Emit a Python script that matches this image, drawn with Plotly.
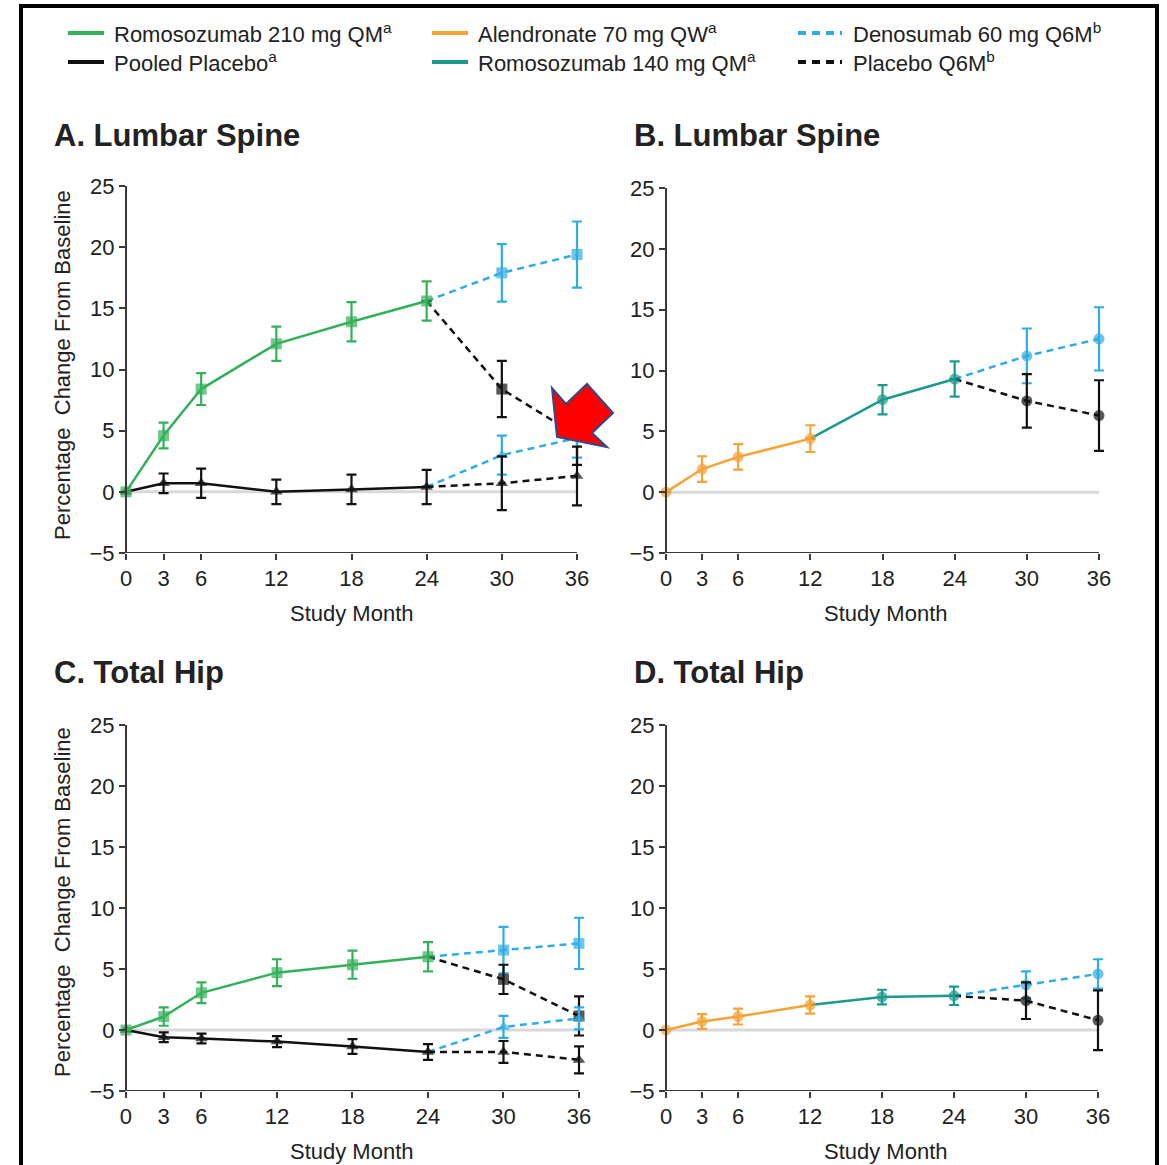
import plotly.graph_objects as go

W, H = 1167, 1165
FONT = "Liberation Sans, Arial, Helvetica, sans-serif"
TXT = "#222222"
AXIS = "#3a3a3a"

GREEN = "#33b15a"
ORANGE = "#f7a237"
BLUE = "#2fade4"
TEAL = "#1c9a8e"
BLACK = "#111111"

# ---- data -----------------------------------------------------------------
months = [0, 3, 6, 12, 18, 24, 30, 36]
month_ticks = ["0", "3", "6", "12", "18", "24", "30", "36"]
pct_ticks = [-5, 0, 5, 10, 15, 20, 25]

# A. Lumbar spine, phase 2 (romosozumab 210 mg vs pooled placebo)
romo210_ls = [0, 4.6, 8.4, 12.1, 13.9, 15.6]
romo210_ls_err = [None, 1.05, 1.3, 1.4, 1.6, 1.6]
romo_deno_ls = [17.9, 19.4]
romo_deno_ls_err = [2.35, 2.7]
romo_pbo_ls = [8.4, 4.6]
romo_pbo_ls_err = [2.3, 2.4]
pbo_ls = [0, 0.7, 0.7, 0.0, 0.2, 0.4]
pbo_ls_err = [None, 0.8, 1.2, 1.0, 1.2, 1.4]
pbo_deno_ls = [3.0, 4.4]
pbo_deno_ls_err = [1.6, 1.6]
pbo_pbo_ls = [0.7, 1.3]
pbo_pbo_ls_err = [2.2, 2.4]

# B. Lumbar spine, alendronate then romosozumab 140 mg
aln_ls = [0, 1.9, 2.9, 4.4]
aln_ls_err = [None, 1.05, 1.05, 1.1]
romo140_ls = [7.6, 9.3]
romo140_ls_err = [1.2, 1.45]
r140_deno_ls = [11.2, 12.6]
r140_deno_ls_err = [2.25, 2.6]
r140_pbo_ls = [7.5, 6.3]
r140_pbo_ls_err = [2.2, 2.9]

# C. Total hip, phase 2
romo210_th = [0, 1.1, 3.05, 4.7, 5.35, 6.0]
romo210_th_err = [None, 0.75, 0.85, 1.1, 1.15, 1.2]
romo_deno_th = [6.55, 7.1]
romo_deno_th_err = [1.9, 2.1]
romo_pbo_th = [4.15, 1.15]
romo_pbo_th_err = [1.2, 1.6]
pbo_th = [0, -0.6, -0.7, -0.95, -1.35, -1.8]
pbo_th_err = [None, 0.4, 0.4, 0.45, 0.6, 0.65]
pbo_deno_th = [0.25, 0.95]
pbo_deno_th_err = [0.9, 0.9]
pbo_pbo_th = [-1.8, -2.45]
pbo_pbo_th_err = [0.9, 1.1]

# D. Total hip, alendronate then romosozumab 140 mg
aln_th = [0, 0.7, 1.1, 2.05]
aln_th_err = [None, 0.6, 0.65, 0.7]
romo140_th = [2.7, 2.8]
romo140_th_err = [0.6, 0.75]
r140_deno_th = [3.7, 4.6]
r140_deno_th_err = [1.1, 1.2]
r140_pbo_th = [2.4, 0.8]
r140_pbo_th_err = [1.5, 2.45]

legend_items = [
    ("Romosozumab 210 mg QM<sup>a</sup>", GREEN, "solid"),
    ("Alendronate 70 mg QW<sup>a</sup>", ORANGE, "solid"),
    ("Denosumab 60 mg Q6M<sup>b</sup>", BLUE, "dash"),
    ("Pooled Placebo<sup>a</sup>", BLACK, "solid"),
    ("Romosozumab 140 mg QM<sup>a</sup>", TEAL, "solid"),
    ("Placebo Q6M<sup>b</sup>", BLACK, "dash"),
]


def px(x):
    return x / W


def py(y):
    return 1 - y / H


fig = go.Figure()


def series(axis, x, y, err, color, symbol, dash="solid", hide_first=False):
    sizes = [0 if (hide_first and i == 0) else 11 for i in range(len(x))]
    fig.add_trace(go.Scatter(
        x=x, y=y, mode="lines+markers", xaxis="x" + axis, yaxis="y" + axis,
        line=dict(color=color, width=2.5, dash="7px,5px" if dash == "dash" else "solid"),
        marker=dict(color=color, symbol=symbol, size=sizes, line=dict(width=0)),
        error_y=dict(type="data", array=err, visible=True, color=color,
                     thickness=2.2, width=5),
        cliponaxis=False, showlegend=False, hoverinfo="skip",
    ))


def continuation(axis, base, base_month, vals, errs, color, symbol, dash):
    series(axis, [base_month] + months[6:], [base] + vals, [None] + errs,
           color, symbol, dash, hide_first=True)


# Panel A
continuation("", romo210_ls[-1], 24, romo_deno_ls, romo_deno_ls_err, BLUE, "square", "dash")
continuation("", romo210_ls[-1], 24, romo_pbo_ls, romo_pbo_ls_err, BLACK, "square", "dash")
continuation("", pbo_ls[-1], 24, pbo_deno_ls, pbo_deno_ls_err, BLUE, "triangle-up", "dash")
continuation("", pbo_ls[-1], 24, pbo_pbo_ls, pbo_pbo_ls_err, BLACK, "triangle-up", "dash")
series("", months[:6], pbo_ls, pbo_ls_err, BLACK, "triangle-up")
series("", months[:6], romo210_ls, romo210_ls_err, GREEN, "square")

# Panel B
continuation("2", romo140_ls[-1], 24, r140_deno_ls, r140_deno_ls_err, BLUE, "circle", "dash")
continuation("2", romo140_ls[-1], 24, r140_pbo_ls, r140_pbo_ls_err, BLACK, "circle", "dash")
series("2", [12, 18, 24], [aln_ls[-1]] + romo140_ls, [None] + romo140_ls_err, TEAL, "circle",
       hide_first=True)
series("2", months[:4], aln_ls, aln_ls_err, ORANGE, "circle")

# Panel C
continuation("3", romo210_th[-1], 24, romo_deno_th, romo_deno_th_err, BLUE, "square", "dash")
continuation("3", romo210_th[-1], 24, romo_pbo_th, romo_pbo_th_err, BLACK, "square", "dash")
continuation("3", pbo_th[-1], 24, pbo_deno_th, pbo_deno_th_err, BLUE, "triangle-up", "dash")
continuation("3", pbo_th[-1], 24, pbo_pbo_th, pbo_pbo_th_err, BLACK, "triangle-up", "dash")
series("3", months[:6], pbo_th, pbo_th_err, BLACK, "triangle-up")
series("3", months[:6], romo210_th, romo210_th_err, GREEN, "square")

# Panel D
continuation("4", romo140_th[-1], 24, r140_deno_th, r140_deno_th_err, BLUE, "circle", "dash")
continuation("4", romo140_th[-1], 24, r140_pbo_th, r140_pbo_th_err, BLACK, "circle", "dash")
series("4", [12, 18, 24], [aln_th[-1]] + romo140_th, [None] + romo140_th_err, TEAL, "circle",
       hide_first=True)
series("4", months[:4], aln_th, aln_th_err, ORANGE, "circle")

# ---- axes -----------------------------------------------------------------
# pixel extents of month 0..36 and of -5..25 for each panel
panels = {
    "": dict(x=(126, 577), y=(186, 553)),
    "2": dict(x=(666, 1099), y=(188, 553)),
    "3": dict(x=(126, 579), y=(725, 1091)),
    "4": dict(x=(666, 1098), y=(725, 1091)),
}
PADM = 1.0  # extra months either side so edge markers and caps are not clipped

shapes = []
tickfont = dict(family=FONT, size=22, color=TXT)
for key, p in panels.items():
    x0p, x36p = p["x"]
    ppm = (x36p - x0p) / 36.0
    xa = dict(domain=[px(x0p - PADM * ppm), px(x36p + PADM * ppm)],
              range=[-PADM, 36 + PADM],
              tickmode="array", tickvals=months, ticktext=month_ticks,
              ticks="outside", ticklen=6, tickwidth=2, tickcolor=AXIS,
              showline=False, showgrid=False, zeroline=False, tickfont=tickfont,
              anchor="y" + key, fixedrange=True, automargin=False)
    ya = dict(domain=[py(p["y"][1]), py(p["y"][0])], range=[-5, 25],
              tickmode="array", tickvals=pct_ticks,
              ticks="outside", ticklen=6, tickwidth=2, tickcolor=AXIS,
              showline=True, linecolor=AXIS, linewidth=2,
              showgrid=False, zeroline=False, tickfont=tickfont,
              anchor="free", position=px(x0p), fixedrange=True, automargin=False)
    fig.layout["xaxis" + key] = xa
    fig.layout["yaxis" + key] = ya
    xr, yr = "x" + key, "y" + key
    # baseline reference at 0 %
    shapes.append(dict(type="line", xref=xr, yref=yr, x0=0, x1=36, y0=0, y1=0,
                       line=dict(color="#d9d9d9", width=3), layer="below"))
    # month axis line from 0 to 36
    shapes.append(dict(type="line", xref=xr, yref=yr, x0=0, x1=36, y0=-5, y1=-5,
                       line=dict(color=AXIS, width=2), layer="above"))

# ---- text -----------------------------------------------------------------
annotations = []
for text, x, y in [("A. Lumbar Spine", 52, 135), ("B. Lumbar Spine", 632, 135),
                   ("C. Total Hip", 52, 672), ("D. Total Hip", 632, 672)]:
    annotations.append(dict(text="<b>" + text + "</b>", x=px(x), y=py(y),
                            xref="paper", yref="paper", xanchor="left", yanchor="middle",
                            showarrow=False, font=dict(family=FONT, size=31, color=TXT)))

for x, y in [(352, 614), (886, 614), (352, 1151), (886, 1151)]:
    annotations.append(dict(text="Study Month", x=px(x), y=py(y), xref="paper", yref="paper",
                            xanchor="center", yanchor="middle", showarrow=False,
                            font=dict(family=FONT, size=22, color=TXT)))

for y in [365, 902]:
    annotations.append(dict(text="Percentage  Change From Baseline", x=px(62), y=py(y),
                            xref="paper", yref="paper", xanchor="center", yanchor="middle",
                            textangle=-90, showarrow=False,
                            font=dict(family=FONT, size=22, color=TXT)))

legend_cols = [(68, 104, 112), (432, 468, 476), (798, 842, 851)]
legend_rows = [33, 62]
for i, (label, color, dash) in enumerate(legend_items):
    x0, x1, xt = legend_cols[i % 3]
    yy = legend_rows[i // 3]
    shapes.append(dict(type="line", xref="paper", yref="paper",
                       x0=px(x0), x1=px(x1), y0=py(yy), y1=py(yy),
                       line=dict(color=color, width=4,
                                 dash="8px,6px" if dash == "dash" else "solid")))
    annotations.append(dict(text=label, x=px(xt), y=py(yy), xref="paper", yref="paper",
                            xanchor="left", yanchor="middle", showarrow=False,
                            font=dict(family=FONT, size=22, color=TXT)))

# outer frame
shapes.append(dict(type="rect", xref="paper", yref="paper",
                   x0=px(21), x1=px(1157), y0=-0.02, y1=py(6),
                   line=dict(color="#000000", width=4), fillcolor="rgba(0,0,0,0)"))

# callout arrow
arrow_pts = [(557, 437), (552, 388), (566, 404), (587, 384), (613, 413), (592, 433), (607, 447)]
path = "M " + " L ".join(f"{px(x):.5f},{py(y):.5f}" for x, y in arrow_pts) + " Z"
shapes.append(dict(type="path", xref="paper", yref="paper", path=path,
                   fillcolor="#ff0000", line=dict(color="#2f4a8a", width=2), layer="above"))

fig.update_layout(
    width=W, height=H,
    margin=dict(l=0, r=0, t=0, b=0, pad=0, autoexpand=False),
    paper_bgcolor="white", plot_bgcolor="white",
    annotations=annotations, shapes=shapes, showlegend=False,
    font=dict(family=FONT, color=TXT),
)

fig.write_html(
    "out.html",
    config={"displayModeBar": False},
    post_script="document.body.style.margin='0';document.body.style.overflow='hidden';",
)
